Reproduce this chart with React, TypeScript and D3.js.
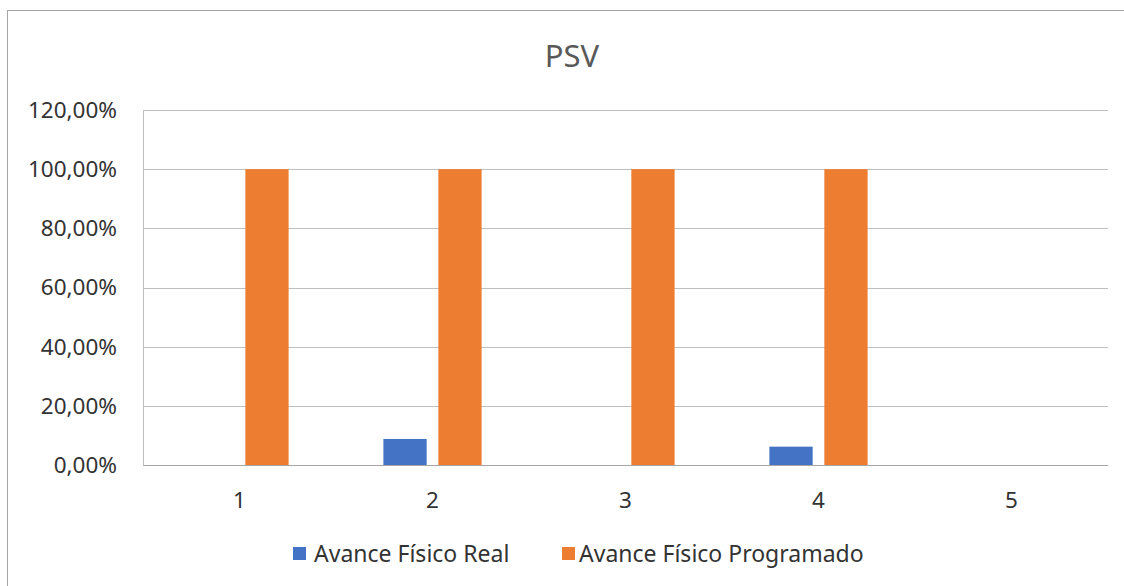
import React from "react";
import * as d3 from "d3";

const categories = ["1", "2", "3", "4", "5"];
const seriesNames = ["Avance Físico Real", "Avance Físico Programado"];
const avanceReal = [0, 0.088, 0, 0.062, 0];
const avanceProgramado = [1, 1, 1, 1, 0];
const yTicks = [0, 0.2, 0.4, 0.6, 0.8, 1.0, 1.2];
const colors = ["#4472C4", "#ED7D31"];
const title = "PSV";

const W = 1124;
const H = 586;
const FONT = "'Noto Sans', 'Open Sans', sans-serif";

export default function App() {
  const x = d3.scaleBand<string>().domain(categories).range([143, 1108]).paddingInner(0).paddingOuter(0);
  const y = d3.scaleLinear().domain([0, 1.2]).range([465, 110]);
  const bw = x.bandwidth();
  const gap = 2.19;
  const overlap = -0.27;
  const n = 2;
  const w = bw / (n - (n - 1) * overlap + gap);
  const groupW = w * (n - (n - 1) * overlap);
  const series = [avanceReal, avanceProgramado];
  const fmt = (v: number) => (v * 100).toFixed(2).replace(".", ",") + "%";

  return (
    <svg width={W} height={H} style={{ position: "absolute", left: 0, top: 0 }} fontFamily={FONT}>
      <rect x={0} y={0} width={W} height={H} fill="#fff" />
      <rect x={7.5} y={10.5} width={W + 20} height={H + 20} fill="#fff" stroke="#a6a6a6" strokeWidth={1} />
      <text x={572} y={67} textAnchor="middle" fontSize={31} fill="#595959">{title}</text>
      {yTicks.map((t) => (
        <g key={t}>
          <line x1={143} x2={1108} y1={Math.round(y(t)) + 0.5} y2={Math.round(y(t)) + 0.5} stroke={t === 0 ? "#a6a6a6" : "#bfbfbf"} strokeWidth={1} />
          <text x={117} y={y(t)} dy="0.35em" textAnchor="end" fontSize={22.5} fill="#333333">{fmt(t)}</text>
        </g>
      ))}
      <line x1={143.5} x2={143.5} y1={110} y2={465.5} stroke="#bfbfbf" strokeWidth={1} />
      {categories.map((c, ci) => {
        const cx = (x(c) as number) + bw / 2;
        return (
          <g key={c}>
            {series.map((s, si) => {
              const v = s[ci];
              if (!v) return null;
              const bx = cx - groupW / 2 + si * w * (1 - overlap);
              return (
                <rect key={si} x={bx} y={y(v)} width={w} height={y(0) - y(v)} fill={colors[si]} />
              );
            })}
            <text x={cx} y={500} dy="0.35em" textAnchor="middle" fontSize={22.5} fill="#333333">{c}</text>
          </g>
        );
      })}
      <g>
        <rect x={293} y={547} width={13} height={13} fill={colors[0]} />
        <text x={314} y={554} dy="0.35em" fontSize={23} fill="#333333">{seriesNames[0]}</text>
        <rect x={562} y={547} width={13} height={13} fill={colors[1]} />
        <text x={579} y={554} dy="0.35em" fontSize={23} fill="#333333">{seriesNames[1]}</text>
      </g>
    </svg>
  );
}
